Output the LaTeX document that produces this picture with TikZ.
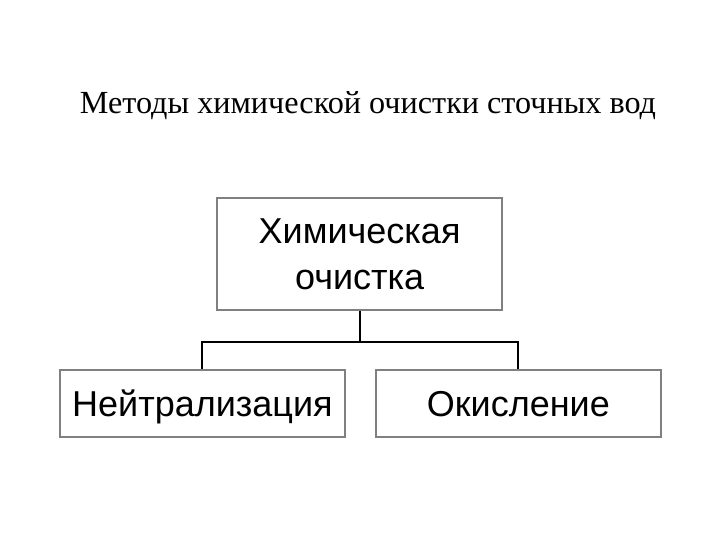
\documentclass[tikz,border=0pt]{standalone}
\usepackage{fontspec}
\setmainfont{Liberation Serif}
\newfontfamily\boxfont{Liberation Sans}
\usepackage{tikz}
\usetikzlibrary{positioning}
\definecolor{BoxGray}{RGB}{128,128,128}

\begin{document}
\begin{tikzpicture}[
  block/.style={
    draw=BoxGray,
    fill=white,
    minimum width=7.125cm,
    align=center,
    line width=1.4pt,
    font=\boxfont\fontsize{25.6}{32.7}\selectfont
  },
  leaf/.style={block, minimum height=1.675cm, text height=18.3pt, text depth=0pt},
  link/.style={line width=1.4pt, black},
  heading/.style={font=\fontsize{22.9}{26}\selectfont, anchor=base}
]
\useasboundingbox (0,0) rectangle (18,-13.5);
\def\XLeft{5.06}
\def\XTop{8.99}
\def\XRight{12.96}
\def\YBranch{-8.55}
\node[heading] (title) at (9.2,-2.83) {Методы химической очистки сточных вод};
\node[block,minimum height=2.8cm] (chem) at (\XTop,-6.35) {Химическая\\очистка};
\node[leaf] (neutr) at (\XLeft,-10.09) {Нейтрализация};
\node[leaf] (oxid) at (\XRight,-10.09) {Окисление};
\coordinate (branch) at (\XTop,\YBranch);
\draw[link] (chem.south) -- (branch);
\draw[link] (neutr.north) |- (branch) -| (oxid.north);
\end{tikzpicture}
\end{document}
